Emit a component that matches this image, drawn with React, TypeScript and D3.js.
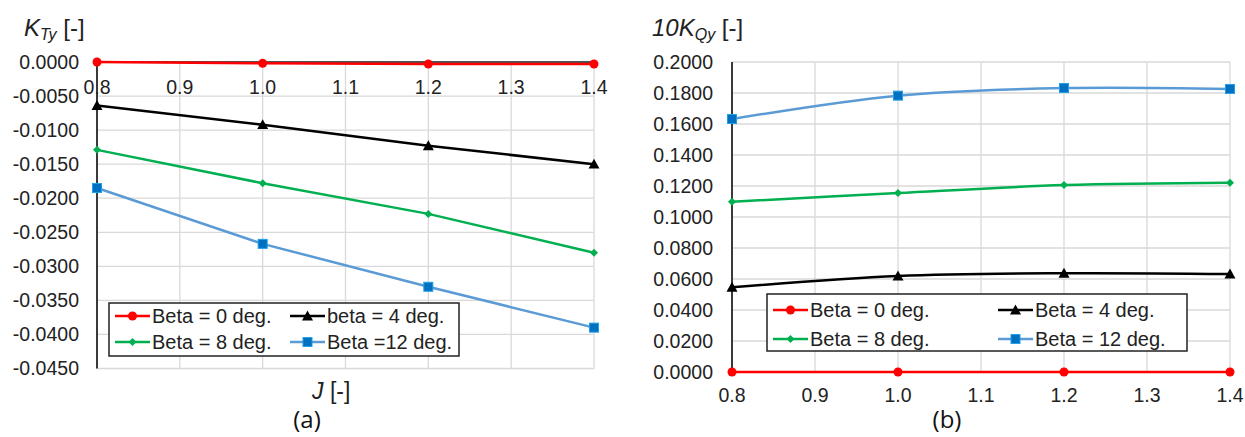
import React from "react";
import * as d3 from "d3";

const J = [0.8, 1.0, 1.2, 1.4];
const xTicks = [0.8, 0.9, 1.0, 1.1, 1.2, 1.3, 1.4];

// (a) K_Ty
const ktBeta0 = [0.0, -0.0002, -0.0003, -0.0003];
const ktBeta4 = [-0.0064, -0.0092, -0.0123, -0.0150];
const ktBeta8 = [-0.0129, -0.0178, -0.0223, -0.0280];
const ktBeta12 = [-0.0185, -0.0267, -0.0330, -0.0390];
const ktTicks = [0, -0.005, -0.01, -0.015, -0.02, -0.025, -0.03, -0.035, -0.04, -0.045];
const ktLabels = ["Beta = 0 deg.", "beta = 4 deg.", "Beta = 8 deg.", "Beta =12 deg."];

// (b) 10K_Qy
const kqBeta0 = [0.0, 0.0, 0.0, 0.0];
const kqBeta4 = [0.0546, 0.0619, 0.0637, 0.0632];
const kqBeta8 = [0.1098, 0.1155, 0.1206, 0.1221];
const kqBeta12 = [0.1632, 0.1783, 0.1832, 0.1826];
const kqTicks = [0, 0.02, 0.04, 0.06, 0.08, 0.1, 0.12, 0.14, 0.16, 0.18, 0.2];
const kqLabels = ["Beta = 0 deg.", "Beta = 4 deg.", "Beta = 8 deg.", "Beta = 12 deg."];

const styles = [
  { color: "#ff0000", marker: "circle" },
  { color: "#000000", marker: "triangle" },
  { color: "#00b050", marker: "diamond" },
  { color: "#5b9bd5", marker: "square" },
];

const FONT = "'Liberation Sans', Arial, sans-serif";
const GRID = "#d9d9d9";

function Marker({ type, x, y, color }: { type: string; x: number; y: number; color: string }) {
  if (type === "circle") return <circle cx={x} cy={y} r={4.5} fill={color} />;
  if (type === "triangle") {
    const s = 5.5;
    return <path d={`M${x},${y - s}L${x + s},${y + s * 0.8}L${x - s},${y + s * 0.8}Z`} fill={color} />;
  }
  if (type === "diamond") {
    const s = 4;
    return <path d={`M${x},${y - s}L${x + s},${y}L${x},${y + s}L${x - s},${y}Z`} fill={color} />;
  }
  return <rect x={x - 4.5} y={y - 4.5} width={9} height={9} fill="#0070c0" stroke="#1fa0e8" strokeWidth={1} />;
}

type ChartProps = {
  x0: number; x1: number; yTop: number; yBot: number;
  domain: [number, number];
  yTicks: number[];
  series: number[][];
  labels: string[];
  smooth: boolean;
  xAxisAtTop: boolean;
  tickLabelRight: number;
  legend: { x: number; y: number; w: number; h: number; col2: number; row1: number; row2: number };
};

function Chart(p: ChartProps) {
  const x = d3.scaleLinear().domain([0.8, 1.4]).range([p.x0, p.x1]);
  const y = d3.scaleLinear().domain(p.domain).range([p.yBot, p.yTop]);
  const line = d3
    .line<number>()
    .x((_, i) => x(J[i]))
    .y((d) => y(d))
    .curve(p.smooth ? d3.curveCatmullRom.alpha(0.5) : d3.curveLinear);
  const axisY = p.xAxisAtTop ? p.yTop : p.yBot;
  const tickLabelY = p.xAxisAtTop ? p.yTop + 25.5 : p.yBot + 23;
  const L = p.legend;
  const pos = [
    [L.x + 6, L.row1],
    [L.col2, L.row1],
    [L.x + 6, L.row2],
    [L.col2, L.row2],
  ];
  return (
    <g>
      {xTicks.map((t) => (
        <line key={"gx" + t} x1={x(t)} x2={x(t)} y1={p.yTop} y2={p.yBot} stroke={GRID} strokeWidth={1.3} />
      ))}
      {p.yTicks.map((t) => (
        <line key={"gy" + t} x1={p.x0} x2={p.x1} y1={y(t)} y2={y(t)} stroke={GRID} strokeWidth={1.3} />
      ))}
      <line x1={p.x0} x2={p.x0} y1={p.yTop} y2={p.yBot} stroke="#000" strokeWidth={1.5} />
      <line x1={p.x0} x2={p.x1} y1={axisY} y2={axisY} stroke="#222" strokeWidth={1.5} />
      {p.yTicks.map((t) => (
        <text key={"ly" + t} x={p.tickLabelRight} y={y(t)} dy="0.35em" textAnchor="end" fontSize={19.5} fontFamily={FONT} fill="#222">
          {t.toFixed(4)}
        </text>
      ))}
      {xTicks.map((t) => (
        <text key={"lx" + t} x={x(t)} y={tickLabelY} dy="0.35em" textAnchor="middle" fontSize={19.5} fontFamily={FONT} fill="#222">
          {t.toFixed(1)}
        </text>
      ))}
      {p.series.map((s, i) => (
        <g key={"s" + i}>
          <path d={line(s) || ""} fill="none" stroke={styles[i].color} strokeWidth={2.5} />
          {s.map((v, j) => (
            <Marker key={j} type={styles[i].marker} x={x(J[j])} y={y(v)} color={styles[i].color} />
          ))}
        </g>
      ))}
      <rect x={L.x} y={L.y} width={L.w} height={L.h} fill="#fff" stroke="#222" strokeWidth={1.5} />
      {p.labels.map((lab, i) => (
        <g key={"lg" + i}>
          <line x1={pos[i][0]} x2={pos[i][0] + 35} y1={pos[i][1]} y2={pos[i][1]} stroke={styles[i].color} strokeWidth={2.5} />
          <Marker type={styles[i].marker} x={pos[i][0] + 17.5} y={pos[i][1]} color={styles[i].color} />
          <text x={pos[i][0] + 37} y={pos[i][1]} dy="0.35em" fontSize={20} fontFamily={FONT} fill="#222">
            {lab}
          </text>
        </g>
      ))}
    </g>
  );
}

export default function App() {
  return (
    <svg width={1245} height={437} style={{ position: "absolute", left: 0, top: 0, background: "#fff" }}>
      <rect width={1245} height={437} fill="#fff" />
      <Chart
        x0={97} x1={594} yTop={62} yBot={368.5}
        domain={[-0.045, 0]}
        yTicks={ktTicks}
        series={[ktBeta0, ktBeta4, ktBeta8, ktBeta12]}
        labels={ktLabels}
        smooth={false}
        xAxisAtTop={true}
        tickLabelRight={79}
        legend={{ x: 109, y: 303, w: 350, h: 53, col2: 290, row1: 316, row2: 342 }}
      />
      <Chart
        x0={732} x1={1230} yTop={62} yBot={372}
        domain={[0, 0.2]}
        yTicks={kqTicks}
        series={[kqBeta0, kqBeta4, kqBeta8, kqBeta12]}
        labels={kqLabels}
        smooth={true}
        xAxisAtTop={false}
        tickLabelRight={713}
        legend={{ x: 767, y: 294, w: 420, h: 57, col2: 998, row1: 310, row2: 339 }}
      />
      {/* axis titles */}
      <text x={24} y={36} fontFamily={FONT} fontSize={24} fill="#222">
        <tspan fontStyle="italic">K</tspan>
        <tspan fontStyle="italic" fontSize={16} dy={4}>Ty</tspan>
        <tspan dy={-4}> [-]</tspan>
      </text>
      <text x={652} y={36} fontFamily={FONT} fontSize={24} fill="#222">
        <tspan fontStyle="italic">10K</tspan>
        <tspan fontStyle="italic" fontSize={16} dy={4}>Qy</tspan>
        <tspan dy={-4}> [-]</tspan>
      </text>
      <text x={312} y={399} fontFamily={FONT} fontSize={23} fill="#222">
        <tspan fontStyle="italic">J</tspan>
        <tspan> [-]</tspan>
      </text>
      <text x={307} y={428} textAnchor="middle" fontFamily="'Open Sans', sans-serif" fontSize={24} fill="#111">(a)</text>
      <text x={947} y={428} textAnchor="middle" fontFamily="'Open Sans', sans-serif" fontSize={24} fill="#111">(b)</text>
    </svg>
  );
}
